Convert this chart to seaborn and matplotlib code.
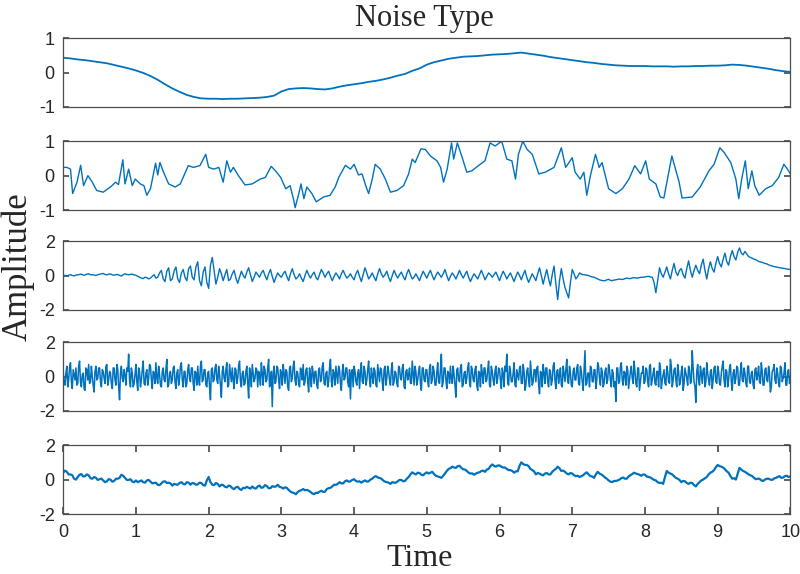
import numpy as np
import pandas as pd
import matplotlib
matplotlib.use("Agg")
import matplotlib.pyplot as plt
import seaborn as sns

# ---- data ----
# panel 1: very slow drift, one value every 0.1 s
t1 = np.round(np.arange(0, 10.01, 0.1), 2)
v1 = [0.43, 0.41, 0.38, 0.36, 0.33, 0.30, 0.27, 0.22, 0.17, 0.12,
      0.06, -0.01, -0.10, -0.21, -0.34, -0.46, -0.56, -0.65, -0.71, -0.75,
      -0.76, -0.76, -0.77, -0.76, -0.76, -0.75, -0.74, -0.73, -0.71, -0.67,
      -0.55, -0.48, -0.46, -0.45, -0.46, -0.48, -0.49, -0.46, -0.41, -0.37,
      -0.34, -0.31, -0.27, -0.24, -0.20, -0.15, -0.09, -0.04, 0.05, 0.12,
      0.23, 0.30, 0.35, 0.40, 0.43, 0.46, 0.47, 0.48, 0.50, 0.52,
      0.53, 0.54, 0.56, 0.58, 0.55, 0.52, 0.49, 0.45, 0.42, 0.39,
      0.36, 0.33, 0.30, 0.28, 0.25, 0.23, 0.21, 0.20, 0.19, 0.19,
      0.19, 0.18, 0.18, 0.18, 0.17, 0.18, 0.18, 0.19, 0.19, 0.20,
      0.20, 0.21, 0.23, 0.22, 0.20, 0.17, 0.14, 0.11, 0.07, 0.04,
      0.02]

# panel 2: random-walk like noise, turning points
t2 = [0.00, 0.05, 0.10, 0.13, 0.19, 0.24, 0.28, 0.34, 0.40, 0.46, 0.55, 0.65, 0.72,
      0.76, 0.82, 0.85, 0.90, 0.95, 0.99, 1.06, 1.11, 1.15, 1.20, 1.27, 1.30, 1.33,
      1.38, 1.45, 1.54, 1.61, 1.72, 1.79, 1.88, 1.96, 2.00, 2.07, 2.14, 2.20, 2.25,
      2.30, 2.34, 2.41, 2.50, 2.60, 2.71, 2.78, 2.86, 2.92, 2.99, 3.06, 3.12, 3.17,
      3.19, 3.24, 3.27, 3.31, 3.35, 3.42, 3.48, 3.58, 3.67, 3.74, 3.79, 3.88, 3.95,
      4.00, 4.06, 4.11, 4.16, 4.20, 4.25, 4.29, 4.36, 4.43, 4.50, 4.59, 4.68, 4.75,
      4.80, 4.84, 4.92, 4.98, 5.05, 5.14, 5.19, 5.23, 5.28, 5.34, 5.37, 5.42, 5.48,
      5.55, 5.62, 5.71, 5.80, 5.87, 5.94, 6.03, 6.10, 6.17, 6.22, 6.26, 6.32, 6.38,
      6.45, 6.54, 6.63, 6.75, 6.85, 6.91, 7.00, 7.04, 7.11, 7.16, 7.20, 7.25, 7.32,
      7.37, 7.41, 7.50, 7.60, 7.69, 7.78, 7.86, 7.94, 8.01, 8.06, 8.15, 8.21, 8.26,
      8.37, 8.47, 8.51, 8.65, 8.76, 8.88, 8.95, 9.03, 9.09, 9.18, 9.25, 9.29, 9.33,
      9.38, 9.42, 9.47, 9.51, 9.57, 9.66, 9.75, 9.84, 9.91, 9.96, 10.00]
v2 = [0.24, 0.24, 0.19, -0.52, -0.19, 0.30, -0.29, 0.00, -0.19, -0.43, -0.48, -0.33, -0.19,
      -0.26, 0.46, -0.24, 0.19, -0.29, -0.10, -0.24, -0.29, -0.57, -0.38, 0.36, 0.02, 0.38,
      0.10, -0.24, -0.33, -0.24, 0.29, 0.24, 0.29, 0.62, 0.24, 0.19, 0.24, -0.19, 0.43,
      0.10, 0.24, 0.00, -0.27, -0.24, -0.10, -0.05, 0.27, 0.14, -0.05, -0.38, -0.29, -0.71,
      -0.93, -0.52, -0.24, -0.67, -0.33, -0.52, -0.76, -0.62, -0.57, -0.33, -0.05, 0.30, 0.19,
      0.33, 0.02, 0.05, -0.29, -0.52, -0.10, 0.33, 0.19, -0.10, -0.48, -0.43, -0.29, 0.05,
      0.48, 0.38, 0.78, 0.76, 0.57, 0.43, 0.24, -0.19, 0.19, 0.95, 0.48, 0.95, 0.57,
      0.10, 0.14, 0.29, 0.43, 0.95, 0.86, 1.00, 0.48, 0.43, -0.10, 0.62, 1.00, 0.76,
      0.62, 0.05, 0.10, 0.24, 0.81, 0.24, 0.52, 0.10, -0.10, 0.10, -0.57, 0.00, 0.62,
      0.24, 0.38, -0.38, -0.52, -0.38, -0.10, 0.29, 0.05, 0.43, -0.10, -0.24, -0.62, -0.65,
      0.57, -0.19, -0.65, -0.62, -0.33, 0.14, 0.33, 0.81, 0.67, 0.38, -0.10, -0.67, -0.10,
      0.43, -0.38, 0.14, -0.29, -0.57, -0.38, -0.29, -0.05, 0.33, 0.19, 0.05]

# panels 3 and 5: one value every 0.05 s plus one in between each pair
t35 = np.round(np.arange(0, 10.001, 0.05), 3)
t35_mid = np.round(np.arange(0.025, 10.0, 0.05), 3)
v3 = [0.02, -0.03, 0.05, -0.02, 0.04, 0.08, 0.03, 0.10, 0.05, 0.00,
      0.07, 0.12, 0.04, 0.09, 0.02, 0.06, -0.03, 0.10, 0.04, 0.08,
      0.02, -0.10, -0.18, -0.12, -0.15, 0.05, -0.10, 0.30, -0.35, 0.45,
      -0.20, 0.50, -0.40, 0.35, -0.30, 0.55, -0.25, 0.80, -0.60, 0.50,
      -0.75, 1.05, -0.50, 0.40, -0.30, 0.35, -0.20, 0.30, -0.45, 0.25,
      -0.15, 0.45, -0.35, 0.20, -0.10, 0.30, -0.25, 0.35, -0.40, 0.15,
      -0.10, 0.25, -0.30, 0.40, -0.20, 0.10, -0.35, 0.30, -0.15, 0.20,
      -0.25, 0.35, -0.10, 0.25, -0.30, 0.15, -0.20, 0.30, -0.15, 0.10,
      -0.25, 0.30, -0.35, 0.45, -0.20, 0.15, -0.30, 0.40, -0.10, 0.25,
      -0.35, 0.30, -0.15, 0.20, -0.25, 0.35, -0.20, 0.10, -0.30, 0.25,
      -0.15, 0.30, -0.25, 0.20, -0.10, 0.35, -0.30, 0.15, -0.20, 0.30,
      -0.15, 0.25, -0.35, 0.10, -0.20, 0.30, -0.25, 0.15, -0.10, 0.20,
      -0.30, 0.25, -0.20, 0.15, -0.35, 0.20, -0.25, 0.30, -0.40, 0.10,
      -0.30, 0.45, -0.50, 0.35, -0.60, 0.55, -1.40, 0.40, -0.70, -1.30,
      0.35, -0.20, 0.15, 0.05, 0.02, -0.05, -0.10, -0.20, -0.28, -0.30,
      -0.22, -0.30, -0.25, -0.20, -0.22, -0.15, -0.18, -0.12, -0.15, -0.10,
      -0.08, -0.05, -0.10, -1.00, 0.45, -0.10, 0.50, -0.20, 0.70, 0.00,
      0.40, -0.15, 0.85, -0.10, 0.60, 0.10, 0.95, -0.20, 0.80, 0.20,
      1.10, 0.50, 1.30, 0.60, 1.45, 0.90, 1.60, 1.20, 1.25, 1.05,
      0.95, 0.85, 0.78, 0.70, 0.62, 0.55, 0.50, 0.45, 0.42, 0.38,
      0.35]
v3_mid = [0.00, 0.02, 0.00, 0.03, 0.06, 0.02, 0.08, 0.04, 0.03, 0.05,
          0.10, 0.06, 0.08, 0.04, 0.05, 0.01, 0.05, 0.06, 0.07, 0.03,
          -0.05, -0.15, -0.10, -0.20, -0.05, -0.15, 0.15, -0.20, 0.25, -0.30,
          0.25, -0.20, 0.15, -0.10, 0.40, -0.10, 0.50, -0.30, 0.20, -0.40,
          0.60, 0.30, -0.10, 0.10, 0.05, -0.30, 0.10, -0.15, -0.10, 0.00,
          0.20, 0.05, -0.10, 0.05, 0.15, 0.00, 0.10, -0.05, -0.10, 0.00,
          0.10, -0.05, 0.10, 0.05, -0.10, -0.15, 0.00, 0.05, 0.05, -0.10,
          0.05, 0.15, 0.10, -0.05, -0.05, 0.00, 0.10, 0.05, -0.05, -0.10,
          0.10, -0.05, 0.05, 0.15, -0.05, -0.10, 0.10, 0.10, 0.05, -0.10,
          0.00, 0.05, 0.05, -0.05, 0.10, 0.05, -0.10, -0.10, 0.00, 0.05,
          0.10, 0.00, 0.00, 0.05, 0.10, 0.00, -0.05, 0.00, 0.05, 0.05,
          0.05, -0.10, -0.10, -0.05, 0.05, 0.05, -0.05, 0.05, 0.05, -0.05,
          0.00, 0.05, 0.00, -0.10, -0.05, 0.00, 0.05, -0.10, -0.15, -0.10,
          0.10, 0.00, -0.05, -0.20, 0.05, -0.50, -0.30, -0.20, -1.00, -0.40,
          0.10, -0.05, 0.08, 0.04, 0.00, -0.08, -0.15, -0.25, -0.30, -0.25,
          -0.28, -0.26, -0.22, -0.23, -0.18, -0.17, -0.14, -0.14, -0.12, -0.10,
          -0.06, -0.08, -0.40, -0.30, 0.10, 0.20, 0.10, 0.30, 0.20, 0.30,
          0.05, 0.40, 0.30, 0.30, 0.30, 0.60, 0.30, 0.40, 0.40, 0.70,
          0.70, 0.95, 0.80, 1.10, 1.10, 1.35, 1.30, 1.40, 1.10, 1.00,
          0.92, 0.80, 0.74, 0.68, 0.58, 0.52, 0.48, 0.44, 0.40, 0.36]
v5 = [0.40, 0.45, 0.30, 0.05, 0.15, 0.32, 0.20, 0.25, 0.05, 0.10,
      0.02, -0.05, -0.10, 0.00, -0.08, 0.05, 0.28, 0.10, -0.02, -0.12,
      -0.05, -0.10, -0.15, -0.05, -0.12, -0.20, -0.30, -0.22, -0.10, -0.18,
      -0.35, -0.28, -0.20, -0.25, -0.15, -0.30, -0.22, -0.28, -0.20, -0.35,
      0.15, -0.30, -0.20, -0.40, -0.32, -0.45, -0.38, -0.55, -0.42, -0.60,
      -0.50, -0.48, -0.40, -0.52, -0.35, -0.45, -0.38, -0.50, -0.42, -0.30,
      -0.45, -0.45, -0.60, -0.75, -0.85, -0.65, -0.55, -0.60, -0.72, -0.85,
      -0.78, -0.65, -0.70, -0.50, -0.40, -0.30, -0.15, -0.22, -0.05, -0.10,
      0.02, -0.12, -0.18, -0.05, -0.10, 0.05, 0.20, 0.10, -0.05, -0.15,
      -0.25, -0.18, -0.10, -0.02, -0.08, 0.15, 0.42, 0.30, 0.38, 0.25,
      0.42, 0.40, 0.32, 0.18, 0.10, 0.35, 0.62, 0.75, 0.68, 0.80,
      0.60, 0.50, 0.35, 0.28, 0.40, 0.50, 0.45, 0.62, 0.88, 0.75,
      0.82, 0.70, 0.62, 0.55, 0.40, 0.48, 1.00, 0.85, 0.78, 0.55,
      0.30, 0.35, 0.25, 0.38, 0.30, 0.55, 0.75, 0.50, 0.45, 0.30,
      0.35, 0.20, 0.15, 0.25, 0.42, 0.20, 0.10, 0.45, 0.30, 0.12,
      -0.05, -0.15, -0.08, 0.00, 0.12, 0.05, 0.25, 0.40, 0.32, 0.22,
      0.28, 0.15, 0.05, -0.05, -0.20, -0.25, 0.50, 0.35, 0.20, 0.05,
      -0.15, -0.10, -0.25, -0.20, -0.40, -0.15, 0.00, 0.15, 0.40, 0.55,
      0.85, 0.75, 0.60, 0.40, 0.05, 0.00, 0.68, 0.50, 0.38, 0.25,
      0.10, 0.05, -0.05, 0.00, 0.05, -0.02, 0.10, 0.20, 0.12, 0.22,
      0.18]
v5_mid = [0.52, 0.30, 0.25, 0.00, 0.28, 0.18, 0.30, 0.08, 0.15, -0.02,
          0.06, -0.15, 0.02, -0.12, 0.05, 0.10, 0.22, -0.02, 0.02, -0.15,
          -0.15, -0.05, -0.18, -0.02, -0.22, -0.18, -0.32, -0.12, -0.20, -0.22,
          -0.25, -0.30, -0.15, -0.28, -0.18, -0.20, -0.30, -0.18, -0.32, -0.05,
          -0.15, -0.32, -0.25, -0.30, -0.42, -0.35, -0.50, -0.45, -0.55, -0.48,
          -0.42, -0.52, -0.50, -0.40, -0.48, -0.32, -0.50, -0.38, -0.40, -0.42,
          -0.52, -0.48, -0.70, -0.78, -0.72, -0.62, -0.62, -0.64, -0.80, -0.76,
          -0.70, -0.72, -0.55, -0.48, -0.30, -0.25, -0.22, -0.10, -0.12, -0.02,
          -0.08, -0.10, -0.10, -0.12, 0.00, 0.15, 0.12, 0.05, -0.12, -0.18,
          -0.15, -0.18, -0.02, -0.10, 0.05, 0.30, 0.35, 0.40, 0.28, 0.35,
          0.35, 0.45, 0.22, 0.15, 0.22, 0.50, 0.66, 0.70, 0.78, 0.68,
          0.58, 0.40, 0.36, 0.35, 0.42, 0.52, 0.58, 0.78, 0.80, 0.82,
          0.75, 0.70, 0.55, 0.50, 0.48, 0.80, 0.90, 0.85, 0.62, 0.48,
          0.38, 0.28, 0.35, 0.30, 0.45, 0.62, 0.65, 0.52, 0.35, 0.38,
          0.25, 0.22, 0.20, 0.35, 0.30, 0.18, 0.30, 0.35, 0.22, 0.05,
          -0.12, -0.08, -0.05, 0.08, 0.05, 0.18, 0.32, 0.35, 0.28, 0.30,
          0.18, 0.12, -0.02, -0.15, -0.18, 0.15, 0.40, 0.30, 0.10, -0.02,
          -0.08, -0.20, -0.18, -0.32, -0.25, -0.05, 0.08, 0.30, 0.45, 0.72,
          0.78, 0.70, 0.48, 0.20, 0.08, 0.35, 0.58, 0.45, 0.30, 0.20,
          0.02, 0.05, -0.08, 0.05, 0.00, 0.06, 0.15, 0.10, 0.20, 0.15]

# panel 4: white noise, one value every 0.025 s plus one in between each pair
t4 = np.round(np.arange(0, 10.0001, 0.025), 4)
t4_mid = np.round(np.arange(0.0125, 10.0, 0.025), 4)
v4 = [0.3, -0.5, 0.6, -0.2, 0.8, -0.7, 0.1, 0.5, -0.4, 0.9, -0.6, 0.2, -0.8, 0.4, 0.7, -0.3, 0.0, -0.9, 0.6, -0.1,
      0.5, -0.6, 0.3, -0.4, 0.7, -0.2, 0.2, -0.7, 0.5, -0.5, 0.4, -1.35, 0.6, -0.3, 0.1, 0.5, 1.3, -0.6, 0.2, -0.4,
      0.7, -0.8, 0.3, -0.2, 0.9, -0.5, 0.4, -0.1, 0.6, -0.7, 0.2, 0.8, -0.4, 0.1, -0.6, 0.5, -0.3, 1.0, -0.5, 0.3,
      -0.2, 0.6, -0.7, 0.4, -0.1, 0.8, -0.6, 0.3, -0.4, 0.7, -0.3, 0.5, -0.8, 0.2, 0.6, -0.5, 0.9, -0.2, 0.4, -0.6,
      0.3, -1.35, 0.5, -0.2, 0.7, -0.4, 0.1, -1.2, 0.6, -0.3, 0.8, -0.5, 0.2, 0.5, -0.7, 0.4, -0.1, 0.9, -0.6, 0.3,
      -0.4, 0.6, -1.25, 0.2, 0.7, -0.3, 0.5, -0.6, 0.1, 0.8, -0.5, 0.4, -0.2, 1.0, -0.4, -1.75, 0.6, -0.3, 0.5, -0.7,
      0.2, 0.7, -0.4, 0.3, -0.8, 0.6, -0.1, 0.9, -0.5, 0.2, -0.6, 0.4, 0.7, -0.3, 0.5, -0.9, 0.1, 0.6, -0.4, 0.3,
      -0.7, 0.5, -0.2, 0.8, -0.5, 0.3, -0.3, 1.0, -0.6, 0.2, 0.6, -0.4, 0.4, -0.8, 0.7, -0.1, 0.5, -0.6, -1.3, 0.4,
      0.6, -0.3, 0.2, -0.7, 0.8, -0.4, 0.3, -0.2, 0.9, -0.6, 0.1, 0.5, -0.5, 0.7, -0.3, 0.4, -0.8, 0.6, -0.1, 0.3,
      -0.5, 0.8, -0.3, 0.2, -0.6, 0.5, -0.2, 0.7, -0.7, 0.4, 0.1, -0.4, 0.9, -0.5, 0.3, -0.2, 0.6, -0.8, 0.5, -0.3,
      0.4, -0.6, 0.7, -0.2, 0.3, -0.5, 0.8, -0.4, 1.3, -0.3, 0.5, -0.7, 0.2, 0.6, -0.4, 0.1, -1.2, 0.5, -0.3, 0.7,
      -0.5, 0.3, -0.1, 0.8, -0.6, 0.4, -0.3, 0.6, -0.8, 0.2, 0.7, -0.4, 0.5, -0.2, 0.9, -0.6, 0.3, -0.5, 0.6, -0.1,
      0.4, -0.7, 0.2, 0.6, 1.3, -0.5, 0.3, -0.3, 0.8, -0.6, 0.1, 0.5, -0.4, 0.7, -0.8, 0.3, -0.2, 0.9, -0.5, 0.4,
      -0.3, 0.6, -1.0, 0.2, 0.7, -0.4, 0.5, -0.6, 0.3, -0.2, 0.8, -0.7, 0.4, 0.1, -0.5, 0.6, -0.3, 1.0, -0.4, 0.2,
      -0.6, 0.5, -0.2, 0.7, -0.5, 0.3, -0.8, 1.5, -0.4, 0.2, 0.6, -0.3, 0.4, -0.7, 0.8, -0.1, 0.5, -0.6, 0.3, -0.4,
      0.7, -0.2, 0.4, -0.6, -1.45, 0.5, -0.3, 0.8, -0.5, 0.2, 0.6, -0.7, 0.3, -0.1, 0.9, -0.4, 0.5, -0.8, 0.2, 0.6,
      -0.3, 0.4, -0.6, 0.7, -0.2, 0.5, -0.5, 0.3, 0.8, -0.7, 0.1, -0.4, 0.6, -0.3, 1.0, -0.6, 0.4, -0.2, 0.7, -0.5,
      0.3, -0.8, 0.5, -0.1, 0.6, -0.4, 1.5, -0.3, -1.5, 0.7, -0.5, 0.2, 0.4, -0.6, 0.8, -0.2, 0.3, -0.7, 0.5, -0.3,
      0.6, -0.4, 0.2, 0.9, -0.6, 0.3, -0.2, 0.7, -0.8, 0.4, -0.1, 0.5, -0.5, 0.8, -0.3, 0.2, -0.6, 0.6, -0.4, 0.3,
      -0.7, 0.5, 0.1, -0.3, 0.8, -0.5, 0.4, -0.2, 0.6, -0.9, 0.3, 0.7, -0.4, 0.2, -0.6, 0.5, -0.1, 0.8, -0.5, 0.4,
      -0.2]
v4_mid = [-0.4, 0.2, -0.6, 0.5, -0.3, 0.4, -0.2, -0.5, 0.6, -0.3, 0.1, -0.7, 0.5, -0.2, -0.4, 0.6, -0.5, 0.3, -0.2, 0.5,
          -0.3, 0.4, -0.1, 0.6, -0.5, 0.3, -0.4, 0.5, -0.2, 0.7, -0.6, 0.2, -0.1, 0.4, -0.5, 0.3, -0.2, 0.5, -0.6, 0.1,
          -0.3, 0.5, -0.6, 0.4, -0.4, 0.2, -0.5, 0.7, -0.2, 0.3, -0.4, -0.1, 0.6, -0.5, 0.3, -0.2, 0.4, -0.6, 0.2, -0.4,
          0.5, -0.3, 0.2, -0.5, 0.6, -0.2, 0.3, -0.6, 0.4, -0.1, 0.5, -0.4, 0.3, -0.5, -0.2, 0.6, -0.3, 0.4, -0.5, 0.2,
          -0.6, 0.4, -0.3, 0.5, -0.2, 0.6, -0.5, 0.3, -0.1, 0.4, -0.6, 0.7, -0.3, -0.2, 0.5, -0.4, 0.6, -0.3, 0.2, -0.5,
          0.3, -0.4, 0.5, -0.6, 0.2, -0.1, 0.4, 0.3, -0.5, 0.2, 0.6, -0.3, 0.5, -0.6, 0.3, 0.2, -0.4, 0.6, -0.2, 0.4,
          -0.5, 0.2, 0.4, -0.6, 0.5, -0.3, 0.6, -0.2, 0.3, -0.4, 0.5, -0.2, -0.5, 0.4, -0.3, 0.5, -0.6, 0.2, 0.3, -0.5,
          0.4, -0.3, 0.6, -0.4, 0.2, -0.6, 0.5, -0.3, 0.4, -0.5, 0.1, 0.6, -0.4, 0.3, -0.2, 0.5, -0.3, 0.4, 0.2, -0.6,
          0.3, -0.5, 0.4, 0.2, -0.3, 0.6, -0.5, 0.4, -0.2, 0.5, -0.4, 0.3, -0.6, 0.2, 0.5, -0.3, 0.4, -0.5, 0.6, -0.2,
          0.4, -0.5, 0.3, -0.4, 0.6, -0.1, 0.5, -0.6, 0.3, -0.2, 0.5, -0.4, 0.2, 0.6, -0.5, 0.3, -0.4, 0.5, -0.2, 0.4,
          -0.3, 0.5, -0.4, 0.6, -0.5, 0.2, -0.3, 0.4, -0.6, 0.5, -0.2, 0.3, -0.4, -0.1, 0.6, -0.5, 0.4, -0.2, 0.5, -0.6,
          0.2, -0.4, 0.5, -0.3, 0.6, -0.2, 0.4, -0.5, 0.3, -0.6, 0.2, 0.5, -0.3, 0.4, -0.5, 0.6, -0.2, 0.3, -0.4, 0.5,
          -0.2, 0.5, -0.6, 0.3, -0.4, 0.6, -0.3, 0.2, -0.5, 0.4, -0.2, 0.6, -0.4, 0.3, -0.5, 0.5, -0.6, 0.2, -0.3, 0.4,
          0.5, -0.4, 0.3, -0.6, 0.2, 0.5, -0.3, 0.4, -0.5, 0.6, -0.2, 0.3, -0.4, 0.5, -0.6, 0.2, 0.4, -0.3, 0.6, -0.5,
          0.3, -0.2, 0.5, -0.4, 0.6, -0.3, 0.4, -0.5, 0.2, -0.6, 0.5, -0.3, 0.4, -0.2, 0.6, -0.5, 0.3, -0.4, 0.5, -0.2,
          0.4, -0.6, 0.2, -0.3, 0.5, -0.4, 0.6, -0.2, 0.3, -0.5, 0.4, -0.2, 0.6, -0.4, 0.3, -0.6, 0.5, -0.3, 0.2, -0.4,
          0.5, -0.3, 0.6, -0.5, 0.2, -0.4, 0.3, -0.6, 0.5, -0.2, 0.4, -0.5, 0.3, -0.4, 0.6, -0.2, 0.5, -0.6, 0.3, -0.3,
          0.6, -0.4, 0.2, -0.5, 0.4, -0.3, 0.5, -0.6, 0.3, -0.2, 0.6, -0.4, 0.5, -0.3, 0.2, -0.5, 0.4, -0.2, 0.6, -0.4,
          0.3, -0.5, 0.6, -0.2, 0.4, -0.6, 0.5, -0.3, 0.2, -0.4, 0.6, -0.5, 0.3, -0.2, 0.5, -0.4, 0.6, -0.3, 0.2, -0.5,
          0.4, -0.2, 0.6, -0.4, 0.3, -0.5, 0.5, -0.3, 0.2, -0.6, 0.4, -0.2, 0.5, -0.4, 0.6, -0.3, 0.2, -0.5, 0.3, -0.4]


def frame_of(times, values):
    # put the sample arrays together, ordered by time
    df = pd.DataFrame({"Time": np.concatenate(times), "Amplitude": np.concatenate(values)})
    return df.sort_values("Time").reset_index(drop=True)


series = [(frame_of([t1], [v1]), [-1, 0, 1], 1.3),
          (frame_of([t2], [v2]), [-1, 0, 1], 1.0),
          (frame_of([t35, t35_mid], [v3, v3_mid]), [-2, 0, 2], 1.0),
          (frame_of([t4, t4_mid], [v4, v4_mid]), [-2, 0, 2], 1.1),
          (frame_of([t35, t35_mid], [v5, v5_mid]), [-2, 0, 2], 1.6)]

# ---- style ----
sns.set_theme(style="white")
plt.rcParams["font.family"] = ["Liberation Sans", "DejaVu Sans"]
plt.rcParams["axes.unicode_minus"] = False
blue = "#0072BD"
frame = "#4d4d4d"
serif = ["Liberation Serif", "DejaVu Serif"]

fig = plt.figure(figsize=(8, 5.74), dpi=100)
left, width, height = 0.079, 0.909, 0.12
bottoms = [0.8136, 0.634, 0.46, 0.284, 0.1045]

for i, (df, yt, lw) in enumerate(series):
    ax = fig.add_axes([left, bottoms[i], width, height])
    sns.lineplot(data=df, x="Time", y="Amplitude", ax=ax, color=blue,
                 linewidth=lw, estimator=None, sort=False)
    ax.set_xlim(0, 10)
    ax.set_ylim(yt[0], yt[-1])
    ax.set_yticks(yt)
    ax.set_yticklabels([str(y) for y in yt])
    ax.set_xlabel("")
    ax.set_ylabel("")
    for s in ax.spines.values():
        s.set_color(frame)
        s.set_linewidth(0.9)
    ax.tick_params(axis="y", direction="in", left=True, right=True, length=4,
                   color=frame, labelsize=13, labelcolor="#262626", pad=6)
    if i < 4:
        ax.tick_params(axis="x", bottom=False, labelbottom=False)
    else:
        ax.set_xticks(range(0, 11))
        ax.tick_params(axis="x", direction="in", bottom=True, top=True, length=5,
                       color=frame, labelsize=13, labelcolor="#262626", pad=7)

fig.text(0.53, 0.993, "Noise Type", ha="center", va="top", fontsize=22, family=serif)
fig.text(0.525, 0.001, "Time", ha="center", va="bottom", fontsize=23, family=serif)
fig.text(0.002, 0.535, "Amplitude", ha="left", va="center", rotation=90,
         fontsize=25, family=serif)

fig.savefig("out.png", dpi=100, facecolor="white")
